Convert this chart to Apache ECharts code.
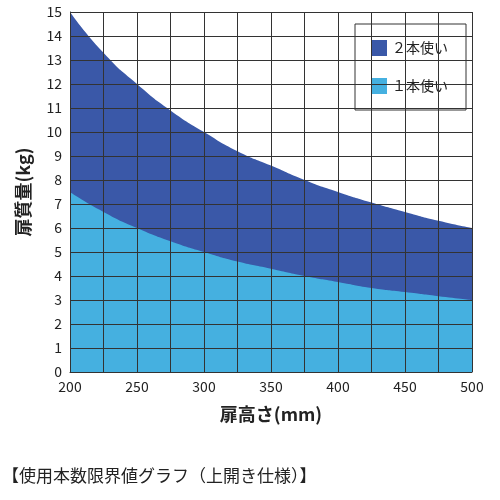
<!DOCTYPE html>
<html><head><meta charset="utf-8">
<script src="https://cdn.jsdelivr.net/npm/echarts@6/dist/echarts.min.js"></script>
<style>html,body{margin:0;padding:0;background:#fff}#c{width:500px;height:500px}</style>
</head><body><div id="c"></div>
<script>
const heights=[200,225,250,275,300,325,350,375,400,425,450,475,500];
const twoUse=[15,13.3,12,10.9,10,9.2,8.6,8,7.5,7.06,6.67,6.3,6];
const oneUse=[7.5,6.67,6,5.45,5,4.6,4.3,4,3.75,3.5,3.33,3.16,3];
const seriesNames=['２本使い','１本使い'];
const F='"Noto Sans CJK JP", sans-serif';
const chart=echarts.init(document.getElementById('c'));
const ax={axisLine:{show:true,lineStyle:{color:'#333',width:1}},axisTick:{show:false},
  splitLine:{show:true,lineStyle:{color:'#333',width:1}},z:5};
chart.setOption({
  animation:false,
  grid:{left:70,right:28,top:12,bottom:128},
  legend:{data:seriesNames,orient:'vertical',right:34,top:24,itemWidth:16,itemHeight:16,itemGap:22,
    padding:[16,18,16,16],backgroundColor:'#fff',borderColor:'#333',borderWidth:1,icon:'rect',
    textStyle:{fontFamily:F,fontSize:14,color:'#222'}},
  xAxis:Object.assign({type:'value',min:200,max:500,interval:25,name:'扉高さ(mm)',nameLocation:'middle',nameGap:33,
    nameTextStyle:{fontFamily:F,fontSize:18,color:'#222',fontWeight:'bold'},
    axisLabel:{fontFamily:F,fontSize:14,color:'#222',formatter:v=>v%50===0?v:''}},ax),
  yAxis:Object.assign({type:'value',min:0,max:15,interval:1,name:'扉質量(kg)',nameLocation:'middle',nameGap:38,
    nameTextStyle:{fontFamily:F,fontSize:18,color:'#222',fontWeight:'bold'},
    axisLabel:{fontFamily:F,fontSize:14,color:'#222'}},ax),
  series:[
    {name:seriesNames[0],type:'line',smooth:0.6,symbol:'none',lineStyle:{width:0},
     itemStyle:{color:'#3a58a8'},areaStyle:{color:'#3a58a8',opacity:1},
     data:heights.map((h,i)=>[h,twoUse[i]])},
    {name:seriesNames[1],type:'line',smooth:0.6,symbol:'none',lineStyle:{width:0},
     itemStyle:{color:'#45b0e0'},areaStyle:{color:'#45b0e0',opacity:1},
     data:heights.map((h,i)=>[h,oneUse[i]])}
  ],
  graphic:[{type:'text',left:2,top:467,style:{text:'【使用本数限界値グラフ（上開き仕様）】',font:'17px '+F,fill:'#222'}}]
});
</script></body></html>
